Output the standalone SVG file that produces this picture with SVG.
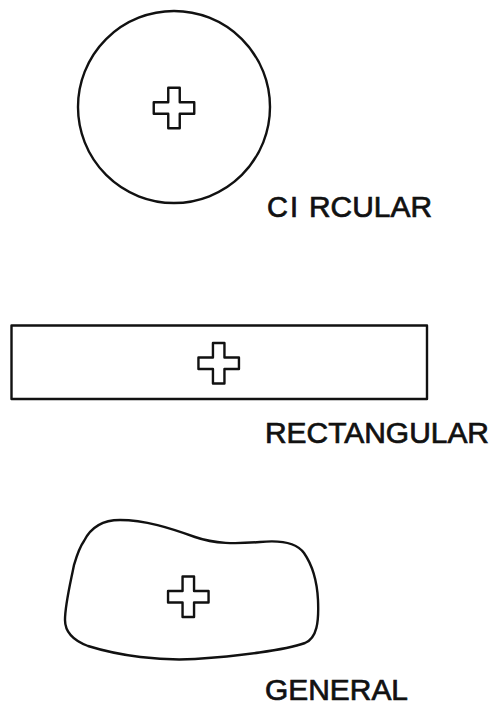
<svg xmlns="http://www.w3.org/2000/svg" xmlns:xlink="http://www.w3.org/1999/xlink" width="492" height="704" viewBox="0 0 492 704">
  <style>
    .shape { fill: none; stroke: #111; stroke-width: 2.4; stroke-linejoin: round; }
    .lbl { font-family: "Liberation Sans", Arial, sans-serif; font-size: 29px; fill: #111; stroke: #111; stroke-width: 0.7; }
  </style>
  <defs>
    <path id="cross" class="shape" d="M -5.75 -20.25 H 5.75 V -5.75 H 20.25 V 5.75 H 5.75 V 20.25 H -5.75 V 5.75 H -20.25 V -5.75 H -5.75 Z"/>
  </defs>
  <rect width="492" height="704" fill="#fff"/>

  <g id="circular">
    <circle class="shape" cx="174" cy="107" r="96"/>
    <use href="#cross" xlink:href="#cross" x="174" y="108"/>
    <text class="lbl" y="216.5"><tspan x="267">C</tspan><tspan x="290">I</tspan><tspan x="309" textLength="123" lengthAdjust="spacingAndGlyphs">RCULAR</tspan></text>
  </g>

  <g id="rectangular">
    <rect class="shape" x="11.5" y="325.5" width="415.5" height="73.5"/>
    <use href="#cross" xlink:href="#cross" x="218.7" y="363.3"/>
    <text class="lbl" x="265" y="443" textLength="224" lengthAdjust="spacingAndGlyphs">RECTANGULAR</text>
  </g>

  <g id="general">
    <path class="shape" d="M 84 541 C 92 525, 106 520, 120 520 C 145 520, 170 528, 195 537 C 215 544, 235 544, 260 542 C 280 540, 296 542, 304 553 C 313 566, 317 580, 318 600 C 319 622, 317 638, 305 643 C 285 650, 240 656, 195 659 C 160 661, 120 656, 88 646 C 72 640, 65 632, 65 620 C 65 605, 70 585, 74 565 C 77 555, 79 548, 84 541 Z"/>
    <use href="#cross" xlink:href="#cross" x="188.3" y="596.7"/>
    <text class="lbl" x="265" y="699.5" textLength="143" lengthAdjust="spacingAndGlyphs">GENERAL</text>
  </g>
</svg>
